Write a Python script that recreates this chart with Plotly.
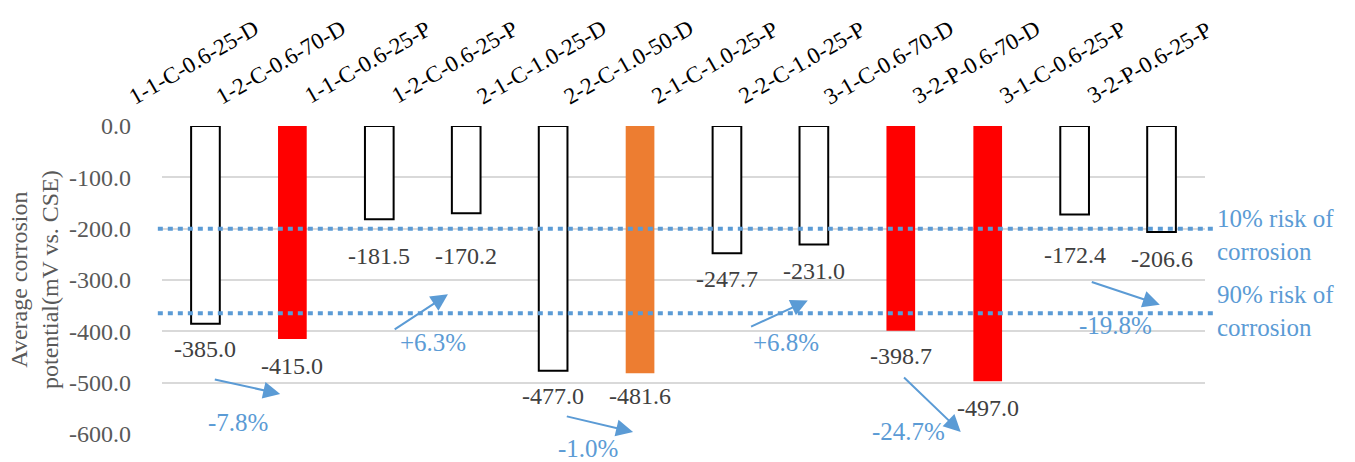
import plotly.graph_objects as go

# Specimen designations and their average corrosion potentials (mV vs. CSE)
specimens = [
    "1-1-C-0.6-25-D", "1-2-C-0.6-70-D", "1-1-C-0.6-25-P", "1-2-C-0.6-25-P",
    "2-1-C-1.0-25-D", "2-2-C-1.0-50-D", "2-1-C-1.0-25-P", "2-2-C-1.0-25-P",
    "3-1-C-0.6-70-D", "3-2-P-0.6-70-D", "3-1-C-0.6-25-P", "3-2-P-0.6-25-P",
]
potential = [-385.0, -415.0, -181.5, -170.2, -477.0, -481.6,
             -247.7, -231.0, -398.7, -497.0, -172.4, -206.6]

# Corrosion-risk thresholds
risk_10 = -200.0
risk_90 = -365.0

# Relative change between paired specimens
changes = ["-7.8%", "+6.3%", "-1.0%", "+6.8%", "-24.7%", "-19.8%"]

y_ticks = [0, -100, -200, -300, -400, -500, -600]
y_ticktext = ["0.0", "-100.0", "-200.0", "-300.0", "-400.0", "-500.0", "-600.0"]

# ---- styling -------------------------------------------------------------
FONT = "Liberation Serif, Times New Roman, serif"
BLUE = "#5B9BD5"
RED = "#FF0000"
ORANGE = "#ED7D31"
fills = ["white", RED, "white", "white", "white", ORANGE,
         "white", "white", RED, RED, "white", "white"]
outline_w = [0 if f != "white" else 2 for f in fills]

# vertical placement of the value labels (axis units)
label_y = [-435, -468, -254, -254, -526, -526, -299, -283, -449, -550, -252, -260]

# arrows: (tail x, tail y, head x, head y, text x, text y, text shift px)
arrow_geo = [
    (0.09, -493, 0.86, -522, 0.38, -577, 0),
    (2.16, -398, 2.79, -328, 2.62, -421, 0),
    (4.14, -565, 4.92, -596, 4.40, -600, -14),
    (6.26, -392, 6.93, -340, 6.68, -421, 0),
    (8.02, -487, 8.69, -596, 8.09, -596, 0),
    (10.18, -303, 10.98, -348, 10.47, -388, 0),
]

fig = go.Figure()
fig.add_trace(go.Bar(
    x=specimens,
    y=potential,
    width=0.33,
    marker=dict(color=fills, line=dict(color="black", width=outline_w)),
    showlegend=False,
    hoverinfo="x+y",
))

shapes = []
for level in (risk_10, risk_90):
    shapes.append(dict(
        type="line", xref="paper", yref="y",
        x0=-0.004, x1=1.008, y0=level, y1=level,
        line=dict(color=BLUE, width=4, dash="5px,5px"),
        layer="above",
    ))

annotations = []
# category labels above the plot
for name in specimens:
    annotations.append(dict(
        x=name, xref="x", y=1, yref="paper",
        text=name, showarrow=False, textangle=-30,
        xanchor="center", yanchor="middle", xshift=-12, yshift=64,
        font=dict(family=FONT, size=23, color="#000000"),
    ))
# value labels
for name, val, ly in zip(specimens, potential, label_y):
    annotations.append(dict(
        x=name, xref="x", y=ly, yref="y",
        text=f"{val:.1f}", showarrow=False,
        xanchor="center", yanchor="middle",
        font=dict(family=FONT, size=24, color="#404040"),
    ))
# change arrows and percentages
for txt, (tx, ty, hx, hy, px, py, sh) in zip(changes, arrow_geo):
    annotations.append(dict(
        x=hx, y=hy, xref="x", yref="y",
        ax=tx, ay=ty, axref="x", ayref="y",
        text="", showarrow=True, arrowhead=2, arrowsize=1.7,
        arrowwidth=2, arrowcolor=BLUE, standoff=0, startstandoff=0,
    ))
    annotations.append(dict(
        x=px, y=py, xref="x", yref="y", yshift=sh, text=txt, showarrow=False,
        xanchor="center", yanchor="middle",
        font=dict(family=FONT, size=25, color=BLUE),
    ))
# threshold captions
for level_y, txt in ((-212, "10% risk of<br>corrosion"), (-361, "90% risk of<br>corrosion")):
    annotations.append(dict(
        x=1.01, xref="paper", y=level_y, yref="y", text=txt,
        showarrow=False, xanchor="left", yanchor="middle", align="left",
        font=dict(family=FONT, size=25, color=BLUE),
    ))
# y-axis title
annotations.append(dict(
    x=-0.1227, xref="paper", y=0.5, yref="paper",
    text="Average corrosion<br>potential(mV vs. CSE)", showarrow=False,
    textangle=-90, xanchor="center", yanchor="middle",
    font=dict(family=FONT, size=24, color="#595959"),
))

fig.update_layout(
    width=1355, height=462,
    margin=dict(l=162, r=150, t=126, b=28),
    paper_bgcolor="white", plot_bgcolor="white",
    bargap=0.67,
    shapes=shapes,
    annotations=annotations,
    xaxis=dict(type="category", showticklabels=False, showgrid=False,
               zeroline=False, showline=False, range=[-0.5, 11.5]),
    yaxis=dict(range=[-600, 0], tickvals=y_ticks, ticktext=y_ticktext,
               showgrid=True, gridcolor="#D9D9D9", gridwidth=1.5,
               zeroline=False, showline=False, ticks="",
               ticklabelstandoff=30,
               tickfont=dict(family=FONT, size=24, color="#595959")),
)

fig.write_html("out.html")
